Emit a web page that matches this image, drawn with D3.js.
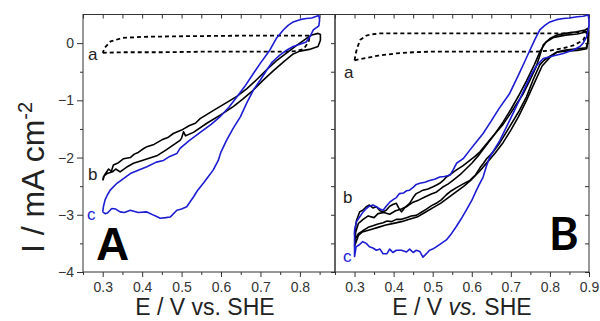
<!DOCTYPE html>
<html>
<head>
<meta charset="utf-8">
<script src="https://cdn.jsdelivr.net/npm/d3@7"></script>
<style>
  body { margin: 0; background: #fff; }
  svg { display: block; font-family: 'Liberation Sans', Arial, sans-serif; }
  .tick text { fill: #333; font-size: 14px; }
  .tick line { stroke: #333; }
</style>
</head>
<body>
<div id="chart"></div>
<script>
//cyclic voltammograms, E in V vs SHE, I in mA cm-2

//ticks
let xTicksA = [0.3, 0.4, 0.5, 0.6, 0.7, 0.8];
let xTicksB = [0.3, 0.4, 0.5, 0.6, 0.7, 0.8, 0.9];
let xMinor = [0.25, 0.35, 0.45, 0.55, 0.65, 0.75, 0.85];
let yTicks = [0, -1, -2, -3, -4];
let yMinor = [-0.5, -1.5, -2.5, -3.5];

//panel A
let aA = [[0.300,-0.17],[0.35,-0.16],[0.45,-0.16],[0.55,-0.15],[0.65,-0.15],[0.75,-0.15],[0.79,-0.14],
  [0.81,-0.10],[0.822,0.02],[0.825,0.13],[0.78,0.13],[0.65,0.13],[0.5,0.12],[0.4,0.11],[0.35,0.09],
  [0.32,0.03],[0.305,-0.08],[0.300,-0.17]];

let bA = [[0.300,-2.40],[0.305,-2.30],[0.315,-2.20],[0.322,-2.24],[0.327,-2.13],[0.340,-2.09],[0.353,-2.02],
  [0.37,-2.00],[0.38,-1.94],[0.39,-1.91],[0.40,-1.86],[0.412,-1.81],[0.43,-1.77],[0.45,-1.69],[0.465,-1.65],
  [0.479,-1.58],[0.50,-1.52],[0.52,-1.44],[0.535,-1.40],[0.547,-1.32],[0.58,-1.18],[0.614,-1.04],[0.64,-0.93],
  [0.665,-0.80],[0.69,-0.64],[0.715,-0.47],[0.74,-0.31],[0.765,-0.18],[0.79,-0.05],[0.816,0.08],[0.83,0.14],
  [0.846,0.17],[0.852,0.15],[0.852,0.05],[0.846,-0.06],[0.824,-0.11],[0.80,-0.14],[0.783,-0.19],[0.76,-0.32],
  [0.733,-0.48],[0.705,-0.66],[0.682,-0.82],[0.655,-0.98],[0.631,-1.11],[0.60,-1.25],[0.564,-1.40],[0.53,-1.56],
  [0.51,-1.62],[0.505,-1.55],[0.50,-1.66],[0.496,-1.70],[0.46,-1.87],[0.437,-1.97],[0.40,-2.05],[0.378,-2.10],
  [0.36,-2.17],[0.344,-2.25],[0.333,-2.20],[0.325,-2.25],[0.311,-2.28],[0.302,-2.33],[0.300,-2.40]];

let cA = [[0.300,-2.95],[0.302,-2.85],[0.306,-2.74],[0.312,-2.65],[0.319,-2.57],[0.336,-2.45],[0.35,-2.38],
  [0.37,-2.28],[0.39,-2.22],[0.412,-2.16],[0.436,-2.08],[0.454,-2.05],[0.47,-1.98],[0.488,-1.93],[0.496,-1.84],
  [0.52,-1.70],[0.555,-1.52],[0.575,-1.42],[0.597,-1.29],[0.62,-1.12],[0.64,-0.94],[0.66,-0.76],[0.682,-0.53],
  [0.70,-0.35],[0.724,-0.12],[0.74,0.08],[0.758,0.23],[0.77,0.31],[0.783,0.37],[0.80,0.41],[0.816,0.43],
  [0.83,0.44],[0.842,0.47],[0.848,0.48],[0.85,0.40],[0.848,0.30],[0.834,0.23],[0.826,0.12],[0.816,0.02],
  [0.80,-0.02],[0.783,-0.06],[0.765,-0.13],[0.749,-0.21],[0.73,-0.33],[0.716,-0.47],[0.70,-0.64],[0.682,-0.82],
  [0.665,-1.05],[0.649,-1.29],[0.63,-1.50],[0.614,-1.70],[0.60,-1.90],[0.593,-2.05],[0.58,-2.22],[0.567,-2.34],
  [0.555,-2.45],[0.54,-2.58],[0.53,-2.69],[0.513,-2.86],[0.50,-2.90],[0.488,-2.92],[0.471,-3.04],[0.46,-3.05],
  [0.446,-3.06],[0.43,-3.01],[0.412,-2.95],[0.39,-2.96],[0.37,-2.92],[0.355,-2.96],[0.344,-2.95],[0.333,-2.90],
  [0.323,-2.89],[0.312,-2.97],[0.306,-2.98],[0.300,-2.95]];

//panel B
let aB = [[0.300,-0.30],[0.321,-0.27],[0.36,-0.22],[0.407,-0.18],[0.45,-0.16],[0.492,-0.15],[0.58,-0.15],
  [0.663,-0.15],[0.72,-0.15],[0.765,-0.15],[0.80,-0.13],[0.834,-0.09],[0.86,-0.04],[0.885,0.05],[0.898,0.23],
  [0.894,0.21],[0.87,0.19],[0.834,0.17],[0.70,0.17],[0.578,0.17],[0.45,0.17],[0.364,0.17],[0.34,0.15],
  [0.33,0.13],[0.315,0.06],[0.308,-0.06],[0.303,-0.18],[0.300,-0.30]];

let bB1 = [[0.300,-3.33],[0.305,-3.10],[0.313,-2.95],[0.321,-2.92],[0.33,-2.86],[0.338,-2.83],[0.347,-2.88],
  [0.356,-2.86],[0.365,-2.93],[0.373,-2.95],[0.381,-2.92],[0.39,-2.85],[0.398,-2.82],[0.407,-2.80],[0.413,-2.88],
  [0.42,-2.95],[0.428,-2.88],[0.441,-2.80],[0.45,-2.70],[0.458,-2.63],[0.467,-2.60],[0.475,-2.57],[0.488,-2.55],
  [0.501,-2.51],[0.51,-2.48],[0.518,-2.45],[0.527,-2.40],[0.535,-2.34],[0.548,-2.28],[0.56,-2.22],[0.578,-2.14],
  [0.595,-2.05],[0.608,-1.98],[0.621,-1.90],[0.64,-1.74],[0.66,-1.58],[0.68,-1.42],[0.70,-1.22],[0.715,-1.06],
  [0.732,-0.88],[0.748,-0.66],[0.765,-0.41],[0.775,-0.20],[0.783,-0.03],[0.80,0.08],[0.817,0.14],[0.84,0.17],
  [0.868,0.20],[0.89,0.23],[0.898,0.26],[0.899,0.17],[0.897,0.02],[0.894,-0.10],[0.87,-0.13],[0.84,-0.14],
  [0.817,-0.16],[0.80,-0.23],[0.785,-0.30],[0.774,-0.38],[0.757,-0.64],[0.74,-0.94],[0.72,-1.20],[0.697,-1.46],
  [0.67,-1.76],[0.655,-1.90],[0.638,-2.02],[0.63,-2.10],[0.621,-2.18],[0.61,-2.30],[0.595,-2.40],[0.578,-2.46],
  [0.56,-2.53],[0.548,-2.58],[0.535,-2.65],[0.522,-2.74],[0.509,-2.80],[0.497,-2.84],[0.484,-2.90],[0.47,-2.96],
  [0.458,-3.01],[0.445,-3.02],[0.433,-3.05],[0.42,-3.08],[0.407,-3.08],[0.395,-3.12],[0.383,-3.11],[0.373,-3.14],
  [0.36,-3.16],[0.347,-3.19],[0.335,-3.22],[0.321,-3.28],[0.31,-3.33],[0.302,-3.42],[0.300,-3.33]];

let bB2 = [[0.300,-3.55],[0.303,-3.30],[0.31,-3.15],[0.322,-3.08],[0.335,-3.02],[0.35,-3.05],[0.36,-2.98],
  [0.375,-2.96],[0.39,-2.99],[0.405,-2.93],[0.42,-2.90],[0.435,-2.85],[0.45,-2.78],[0.465,-2.74],[0.48,-2.69],
  [0.495,-2.64],[0.51,-2.60],[0.525,-2.52],[0.54,-2.46],[0.555,-2.38],[0.57,-2.30],[0.585,-2.20],[0.60,-2.10],
  [0.62,-1.94],[0.64,-1.76],[0.66,-1.58],[0.68,-1.38],[0.70,-1.16],[0.72,-0.92],[0.74,-0.66],[0.76,-0.38],
  [0.775,-0.14],[0.79,0.02],[0.81,0.10],[0.84,0.14],[0.87,0.16],[0.895,0.20],[0.898,0.05],[0.893,-0.08],
  [0.87,-0.10],[0.84,-0.12],[0.82,-0.15],[0.80,-0.25],[0.78,-0.40],[0.76,-0.70],[0.74,-1.00],[0.72,-1.28],
  [0.70,-1.52],[0.68,-1.74],[0.66,-1.92],[0.64,-2.08],[0.62,-2.24],[0.60,-2.38],[0.58,-2.50],[0.56,-2.60],
  [0.54,-2.70],[0.52,-2.80],[0.50,-2.88],[0.48,-2.96],[0.46,-3.04],[0.44,-3.08],[0.42,-3.12],[0.40,-3.15],
  [0.38,-3.18],[0.36,-3.22],[0.34,-3.26],[0.32,-3.30],[0.31,-3.36],[0.300,-3.55]];

let cB = [[0.300,-3.27],[0.305,-3.12],[0.313,-3.04],[0.322,-2.95],[0.33,-2.89],[0.338,-2.85],[0.347,-2.83],
  [0.356,-2.86],[0.365,-2.90],[0.373,-2.92],[0.381,-2.85],[0.39,-2.78],[0.398,-2.74],[0.407,-2.70],[0.415,-2.63],
  [0.425,-2.62],[0.433,-2.58],[0.441,-2.57],[0.45,-2.52],[0.458,-2.47],[0.467,-2.45],[0.48,-2.43],[0.492,-2.40],
  [0.505,-2.38],[0.518,-2.34],[0.53,-2.33],[0.544,-2.31],[0.552,-2.22],[0.561,-2.10],[0.578,-2.02],[0.595,-1.87],
  [0.61,-1.74],[0.629,-1.58],[0.65,-1.36],[0.67,-1.14],[0.697,-0.88],[0.72,-0.55],[0.735,-0.33],[0.749,-0.12],
  [0.762,0.07],[0.774,0.23],[0.787,0.31],[0.80,0.37],[0.817,0.41],[0.834,0.43],[0.85,0.44],[0.87,0.46],
  [0.885,0.47],[0.898,0.49],[0.9,0.40],[0.9,0.30],[0.894,0.11],[0.885,0.00],[0.877,-0.06],[0.86,-0.12],
  [0.834,-0.18],[0.81,-0.22],[0.783,-0.27],[0.765,-0.40],[0.749,-0.59],[0.723,-0.98],[0.697,-1.35],[0.672,-1.70],
  [0.646,-1.99],[0.637,-2.16],[0.629,-2.34],[0.62,-2.46],[0.612,-2.57],[0.60,-2.75],[0.586,-2.92],[0.573,-3.07],
  [0.56,-3.21],[0.548,-3.33],[0.535,-3.44],[0.522,-3.50],[0.509,-3.56],[0.50,-3.60],[0.492,-3.62],[0.484,-3.68],
  [0.475,-3.74],[0.467,-3.64],[0.458,-3.62],[0.45,-3.66],[0.441,-3.60],[0.433,-3.65],[0.42,-3.62],[0.407,-3.62],
  [0.398,-3.66],[0.39,-3.60],[0.383,-3.68],[0.373,-3.68],[0.365,-3.60],[0.356,-3.62],[0.347,-3.58],[0.338,-3.56],
  [0.33,-3.50],[0.321,-3.47],[0.313,-3.52],[0.304,-3.56],[0.300,-3.73],[0.300,-3.27]];

let blue = '#1c1cd4';

//svg set up
let width = 600;
let height = 321;
let svg = d3.select('#chart').append('svg')
  .attr('width', width)
  .attr('height', height);

let plotTop = 14.5;
let plotBottom = 272;
let y = d3.scaleLinear().domain([-4, 0.5]).range([plotBottom, plotTop]);
let xA = d3.scaleLinear().domain([0.25, 0.889]).range([83, 335]);
let xB = d3.scaleLinear().domain([0.25, 0.9]).range([335, 589]);

//draws one panel, frame + ticks + curves
function drawPanel(x, ticks, curves, leftLabels) {
  let g = svg.append('g');
  let [x0, x1] = x.range();
  let minor = xMinor.filter(d => d >= x.domain()[0] && d <= x.domain()[1]);

  //bottom ticks out, top ticks in
  g.append('g').attr('transform', `translate(0,${plotBottom})`)
    .call(d3.axisBottom(x).tickValues(ticks).tickSize(5).tickPadding(5).tickFormat(d3.format('.1f')))
    .call(a => a.select('.domain').remove());
  g.append('g').attr('transform', `translate(0,${plotBottom})`)
    .call(d3.axisBottom(x).tickValues(minor).tickSize(3).tickFormat(''))
    .call(a => a.select('.domain').remove());
  g.append('g').attr('transform', `translate(0,${plotTop})`)
    .call(d3.axisTop(x).tickValues(ticks.concat(minor)).tickSize(-4).tickFormat(''))
    .call(a => a.select('.domain').remove());

  //right side ticks pointing inwards
  g.append('g').attr('transform', `translate(${x1},0)`)
    .call(d3.axisRight(y).tickValues(yTicks.concat(yMinor)).tickSize(-4).tickFormat(''))
    .call(a => a.select('.domain').remove());

  if (leftLabels) {
    g.append('g').attr('transform', `translate(${x0},0)`)
      .call(d3.axisLeft(y).tickValues(yTicks).tickSize(6).tickPadding(3).tickFormat(d3.format('d')))
      .call(a => a.select('.domain').remove());
    g.append('g').attr('transform', `translate(${x0},0)`)
      .call(d3.axisLeft(y).tickValues(yMinor).tickSize(3).tickFormat(''))
      .call(a => a.select('.domain').remove());
  }

  g.append('rect')
    .attr('x', x0).attr('y', plotTop)
    .attr('width', x1 - x0).attr('height', plotBottom - plotTop)
    .attr('fill', 'none').attr('stroke', '#333').attr('stroke-width', 1);

  let line = d3.line().x(d => x(d[0])).y(d => y(d[1]));
  curves.forEach(c => {
    g.append('path')
      .attr('d', line(c.data))
      .attr('fill', 'none')
      .attr('stroke', c.color)
      .attr('stroke-width', c.dash ? 1.8 : 1.6)
      .attr('stroke-dasharray', c.dash ? '4,3' : null)
      .attr('stroke-linejoin', 'round');
  });
  return g;
}

let gA = drawPanel(xA, xTicksA, [
  { data: aA, color: '#000', dash: true },
  { data: bA, color: '#000' },
  { data: cA, color: blue }
], true);

let gB = drawPanel(xB, xTicksB, [
  { data: aB, color: '#000', dash: true },
  { data: bB1, color: '#000' },
  { data: bB2, color: '#000' },
  { data: cB, color: blue }
], false);

//curve labels a b c
function curveLabel(g, px, py, txt, col) {
  g.append('text').attr('x', px).attr('y', py)
    .attr('font-size', 17).attr('fill', col).text(txt);
}
curveLabel(gA, 88, 60, 'a', '#222');
curveLabel(gA, 88, 180, 'b', '#222');
curveLabel(gA, 87, 220, 'c', blue);
curveLabel(gB, 344, 78, 'a', '#222');
curveLabel(gB, 343, 203, 'b', '#222');
curveLabel(gB, 343, 262, 'c', blue);

//big panel letters
svg.append('text').attr('x', 96).attr('y', 260)
  .attr('font-size', 46).attr('font-weight', 'bold').text('A');
svg.append('text').attr('x', 549).attr('y', 250)
  .attr('font-family', 'Lato, sans-serif')
  .attr('font-size', 45).attr('font-weight', 'bold').text('B');

//axis titles
let yLab = svg.append('text')
  .attr('transform', 'translate(44,253) rotate(-90)')
  .attr('font-size', 32).attr('fill', '#222');
yLab.append('tspan').text('I / mA cm');
yLab.append('tspan').attr('font-size', 20).attr('dy', -12).text('-2');

svg.append('text').attr('x', 205).attr('y', 315)
  .attr('text-anchor', 'middle').attr('font-size', 23).attr('fill', '#222')
  .text('E / V vs. SHE');

let xLabB = svg.append('text').attr('x', 462).attr('y', 315)
  .attr('text-anchor', 'middle').attr('font-size', 23).attr('fill', '#222');
xLabB.append('tspan').text('E / V ');
xLabB.append('tspan').attr('font-style', 'italic').text('vs.');
xLabB.append('tspan').text(' SHE');
</script>
</body>
</html>
